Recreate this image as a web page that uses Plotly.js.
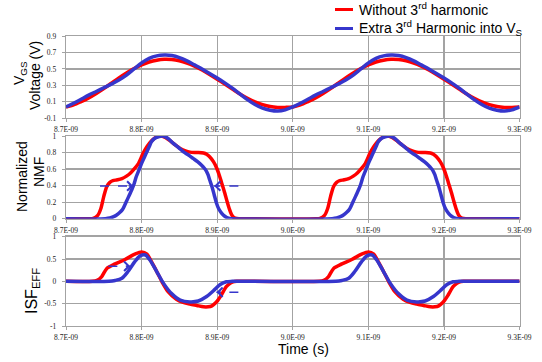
<!DOCTYPE html>
<html>
<head>
<meta charset="utf-8">
<script src="https://cdn.plot.ly/plotly-3.0.1.min.js"></script>
<style>html,body{margin:0;padding:0;background:#fff}#chart{width:542px;height:362px}</style>
</head>
<body>
<div id="chart"></div>
<script>
// ---------- data (time in ns) ----------
const tickVals = [8.7, 8.8, 8.9, 9.0, 9.1, 9.2, 9.3];
const tickText = ["8.7E-09", "8.8E-09", "8.9E-09", "9.0E-09", "9.1E-09", "9.2E-09", "9.3E-09"];

const seriesNames = ["Without 3<sup>rd</sup> harmonic", "Extra 3<sup>rd</sup> Harmonic into V<sub>S</sub>"];

// Panel 1: VGS voltage
const tV = [8.70,8.71,8.72,8.73,8.74,8.75,8.76,8.77,8.78,8.79,8.80,8.81,8.82,8.83,8.84,8.85,8.86,8.87,8.88,8.89,8.90,8.91,8.92,8.93,8.94,8.95,8.96,8.97,8.98,8.99,
            9.00,9.01,9.02,9.03,9.04,9.05,9.06,9.07,9.08,9.09,9.10,9.11,9.12,9.13,9.14,9.15,9.16,9.17,9.18,9.19,9.20,9.21,9.22,9.23,9.24,9.25,9.26,9.27,9.28,9.29,9.30];
const vgsRed = [0.035,0.06,0.10,0.145,0.20,0.26,0.325,0.39,0.45,0.505,0.55,0.585,0.607,0.618,0.615,0.60,0.573,0.535,0.488,0.433,0.375,0.315,0.255,0.195,0.142,0.097,0.063,0.04,0.03,0.03,
                0.035,0.06,0.10,0.145,0.20,0.26,0.325,0.39,0.45,0.505,0.55,0.585,0.607,0.618,0.615,0.60,0.573,0.535,0.488,0.433,0.375,0.315,0.255,0.195,0.142,0.097,0.063,0.04,0.03,0.03,0.035];
const vgsBlue = [0.035,0.08,0.13,0.18,0.225,0.27,0.315,0.365,0.425,0.50,0.575,0.63,0.66,0.67,0.665,0.64,0.60,0.55,0.50,0.445,0.39,0.33,0.265,0.195,0.125,0.065,0.02,-0.005,-0.015,0.0,
                 0.035,0.08,0.13,0.18,0.225,0.27,0.315,0.365,0.425,0.50,0.575,0.63,0.66,0.67,0.665,0.64,0.60,0.55,0.50,0.445,0.39,0.33,0.265,0.195,0.125,0.065,0.02,-0.005,-0.015,0.0,0.035];

// Panel 2: normalized NMF
const tNmfRed = [8.70,8.73,8.736,8.742,8.746,8.75,8.754,8.758,8.762,8.768,8.774,8.78,8.785,8.79,8.796,8.802,8.807,8.811,8.816,8.82,8.826,8.832,8.838,8.844,8.851,8.858,8.864,8.872,8.882,8.886,8.89,8.895,8.899,8.903,8.906,8.91,8.913,8.916,8.919,8.922,8.926,8.93,
                 9.03,9.036,9.042,9.046,9.05,9.054,9.058,9.062,9.068,9.074,9.08,9.085,9.09,9.096,9.102,9.107,9.111,9.116,9.12,9.126,9.132,9.138,9.144,9.151,9.158,9.164,9.172,9.182,9.186,9.19,9.195,9.199,9.203,9.206,9.21,9.213,9.216,9.219,9.222,9.226,9.23,9.30];
const nmfRed = [0,0,0.005,0.04,0.12,0.27,0.39,0.44,0.46,0.47,0.485,0.515,0.55,0.60,0.67,0.79,0.87,0.92,0.965,0.99,1.0,0.98,0.94,0.895,0.85,0.82,0.805,0.80,0.795,0.78,0.75,0.69,0.62,0.52,0.43,0.31,0.21,0.12,0.05,0.015,0.002,0,
                0,0.005,0.04,0.12,0.27,0.39,0.44,0.46,0.47,0.485,0.515,0.55,0.60,0.67,0.79,0.87,0.92,0.965,0.99,1.0,0.98,0.94,0.895,0.85,0.82,0.805,0.80,0.795,0.78,0.75,0.69,0.62,0.52,0.43,0.31,0.21,0.12,0.05,0.015,0.002,0,0];
const tNmfBlue = [8.70,8.752,8.758,8.763,8.767,8.771,8.775,8.78,8.784,8.787,8.79,8.793,8.797,8.80,8.804,8.807,8.81,8.813,8.817,8.822,8.828,8.835,8.842,8.849,8.855,8.862,8.868,8.874,8.879,8.883,8.886,8.888,8.89,8.893,8.896,8.899,8.902,8.906,8.91,8.915,8.92,
                  9.052,9.058,9.063,9.067,9.071,9.075,9.08,9.084,9.087,9.09,9.093,9.097,9.10,9.104,9.107,9.11,9.113,9.117,9.122,9.128,9.135,9.142,9.149,9.155,9.162,9.168,9.174,9.179,9.183,9.186,9.188,9.19,9.193,9.196,9.199,9.202,9.206,9.21,9.215,9.22,9.30];
const nmfBlue = [0,0,0.008,0.025,0.045,0.075,0.115,0.21,0.29,0.35,0.42,0.51,0.60,0.67,0.75,0.81,0.87,0.93,0.97,0.99,1.0,0.97,0.91,0.86,0.81,0.77,0.73,0.69,0.65,0.61,0.57,0.53,0.47,0.39,0.29,0.19,0.12,0.065,0.03,0.005,0,
                 0,0.008,0.025,0.045,0.075,0.115,0.21,0.29,0.35,0.42,0.51,0.60,0.67,0.75,0.81,0.87,0.93,0.97,0.99,1.0,0.97,0.91,0.86,0.81,0.77,0.73,0.69,0.65,0.61,0.57,0.53,0.47,0.39,0.29,0.19,0.12,0.065,0.03,0.005,0,0];

// Panel 3: ISF_EFF
const tIsfRed = [8.70,8.735,8.741,8.747,8.754,8.765,8.778,8.791,8.80,8.807,8.813,8.82,8.827,8.835,8.846,8.855,8.864,8.873,8.882,8.888,8.893,8.898,8.901,8.905,8.908,8.912,8.917,8.921,8.926,
                 9.035,9.041,9.047,9.054,9.065,9.078,9.091,9.10,9.107,9.113,9.12,9.127,9.135,9.146,9.155,9.164,9.173,9.182,9.188,9.193,9.198,9.201,9.205,9.208,9.212,9.217,9.221,9.226,9.30];
const isfRed = [0,0,0.02,0.10,0.29,0.39,0.49,0.61,0.66,0.61,0.44,0.22,-0.01,-0.23,-0.40,-0.47,-0.51,-0.54,-0.57,-0.57,-0.55,-0.48,-0.42,-0.32,-0.23,-0.12,-0.045,-0.01,0,
                0,0.02,0.10,0.29,0.39,0.49,0.61,0.66,0.61,0.44,0.22,-0.01,-0.23,-0.40,-0.47,-0.51,-0.54,-0.57,-0.57,-0.55,-0.48,-0.42,-0.32,-0.23,-0.12,-0.045,-0.01,0,0];
const tIsfBlue = [8.70,8.757,8.765,8.774,8.782,8.791,8.798,8.805,8.811,8.82,8.829,8.84,8.851,8.864,8.875,8.886,8.895,8.904,8.912,8.92,
                  9.057,9.065,9.074,9.082,9.091,9.098,9.105,9.111,9.12,9.129,9.14,9.151,9.164,9.175,9.186,9.195,9.204,9.212,9.22,9.30];
const isfBlue = [0,0,0.02,0.07,0.22,0.44,0.57,0.59,0.48,0.22,-0.045,-0.28,-0.42,-0.46,-0.44,-0.34,-0.21,-0.07,-0.01,0,
                 0,0.02,0.07,0.22,0.44,0.57,0.59,0.48,0.22,-0.045,-0.28,-0.42,-0.46,-0.44,-0.34,-0.21,-0.07,-0.01,0,0];

// tick labels for y axes
const vgsTickVals = [-0.1, 0.1, 0.3, 0.5, 0.7, 0.9];
const vgsTickText = ["-0.1", "0.1", "0.3", "0.5", "0.7", "0.9"];
const nmfTickVals = [0, 0.2, 0.4, 0.6, 0.8, 1];
const nmfTickText = ["0", "0.2", "0.4", "0.6", "0.8", "1"];
const isfTickVals = [-1, -0.5, 0, 0.5, 1];
const isfTickText = ["-1", "-0.5", "0", "0.5", "1"];

// ---------- styling ----------
const RED = "#ff0000";
const BLUE = "#3636cc";
const GRID = "#a3a3a3";
const W = 542, H = 362;
const px = v => v / W;
const py = v => 1 - v / H;
const xDom = [px(66), px(519.6)];
const tickFont = {family: "Liberation Serif", size: 7.5, color: "#222"};
const sans = "Liberation Sans";
const colors = [RED, BLUE];

function mk(x, y, ci, xa, ya) {
  return {x: x, y: y, xaxis: xa, yaxis: ya, type: "scatter", mode: "lines", name: seriesNames[ci],
          showlegend: false, line: {color: colors[ci], width: 3.5, shape: "spline", smoothing: 0.8},
          hoverinfo: "skip"};
}
const data = [
  mk(tV, vgsRed, 0, "x", "y"),
  mk(tV, vgsBlue, 1, "x", "y"),
  mk(tNmfRed, nmfRed, 0, "x2", "y2"),
  mk(tNmfBlue, nmfBlue, 1, "x2", "y2"),
  mk(tIsfRed, isfRed, 0, "x3", "y3"),
  mk(tIsfBlue, isfBlue, 1, "x3", "y3")
];

function xax(anchor) {
  return {domain: xDom, anchor: anchor, range: [8.7, 9.3], tickvals: tickVals, ticktext: tickText,
          tickfont: tickFont, showgrid: true, gridcolor: GRID, gridwidth: 1.3, showline: true, linecolor: GRID,
          linewidth: 1.3, mirror: true, ticks: "outside", ticklen: 3, tickcolor: GRID, zeroline: false,
          ticklabelstandoff: 1, fixedrange: true};
}
function yax(anchor, dom, range, tv, tt) {
  return {domain: dom, anchor: anchor, range: range, tickvals: tv, ticktext: tt, tickfont: tickFont,
          showgrid: true, gridcolor: GRID, gridwidth: 1.3, showline: true, linecolor: GRID, linewidth: 1.3,
          mirror: true, ticks: "outside", ticklen: 3, tickcolor: GRID, zeroline: false,
          ticklabelstandoff: 4, fixedrange: true};
}

function titleAnn(text, x, y, size) {
  return {text: text, xref: "paper", yref: "paper", x: px(x), y: py(y), xanchor: "center", yanchor: "middle",
          textangle: -90, showarrow: false, font: {family: sans, size: size, color: "#000"}};
}
function arrowParts(xr, yr, x0, x1, y) {
  const dir = x1 > x0 ? -1 : 1;
  return {
    shape: {type: "line", xref: xr, yref: yr, x0: x0, x1: x1, y0: y, y1: y,
            line: {color: BLUE, width: 1.5, dash: "dash"}},
    ann: {xref: xr, yref: yr, x: x1, y: y, ax: dir * 6, ay: 0, showarrow: true, arrowhead: 4,
          arrowsize: 1.3, arrowwidth: 1.4, arrowcolor: BLUE, text: ""}
  };
}
const arrows = [
  arrowParts("x2", "y2", 8.745, 8.789, 0.395),
  arrowParts("x2", "y2", 8.928, 8.896, 0.395),
  arrowParts("x3", "y3", 8.756, 8.785, 0.34),
  arrowParts("x3", "y3", 8.928, 8.899, -0.245)
];

// legend (drawn as key lines + labels)
const legendRows = [9.5, 28.5];
const legendShapes = legendRows.map((r, i) => ({type: "line", xref: "paper", yref: "paper",
  x0: px(335), x1: px(353), y0: py(r), y1: py(r), line: {color: colors[i], width: 3}}));
const legendTexts = legendRows.map((r, i) => ({text: seriesNames[i], xref: "paper", yref: "paper",
  x: px(357), y: py(r), xanchor: "left", yanchor: "middle", showarrow: false,
  font: {family: sans, size: 14, color: "#000"}}));

const layout = {
  width: W, height: H, margin: {l: 0, r: 0, t: 0, b: 0},
  paper_bgcolor: "#fff", plot_bgcolor: "#fff",
  font: {family: sans},
  showlegend: false,
  xaxis: xax("y"), xaxis2: xax("y2"), xaxis3: xax("y3"),
  yaxis: yax("x", [py(118), py(36.3)], [-0.1, 0.9], vgsTickVals, vgsTickText),
  yaxis2: yax("x2", [py(218.7), py(136)], [0, 1], nmfTickVals, nmfTickText),
  yaxis3: yax("x3", [py(326), py(236.7)], [-1, 1], isfTickVals, isfTickText),
  shapes: arrows.map(a => a.shape).concat(legendShapes),
  annotations: [
    titleAnn("V<sub>GS</sub>", 20, 73, 14),
    titleAnn("Voltage (V)", 35, 76, 14),
    titleAnn("Normalized", 22, 177, 14),
    titleAnn("NMF", 39, 172, 14),
    titleAnn("ISF<sub>EFF</sub>", 32, 291, 16),
    {text: "Time (s)", xref: "paper", yref: "paper", x: px(303.5), y: py(349), xanchor: "center",
     yanchor: "middle", showarrow: false, font: {family: sans, size: 14, color: "#000"}}
  ].concat(arrows.map(a => a.ann)).concat(legendTexts)
};

Plotly.newPlot("chart", data, layout, {staticPlot: true, displayModeBar: false});
</script>
</body>
</html>
